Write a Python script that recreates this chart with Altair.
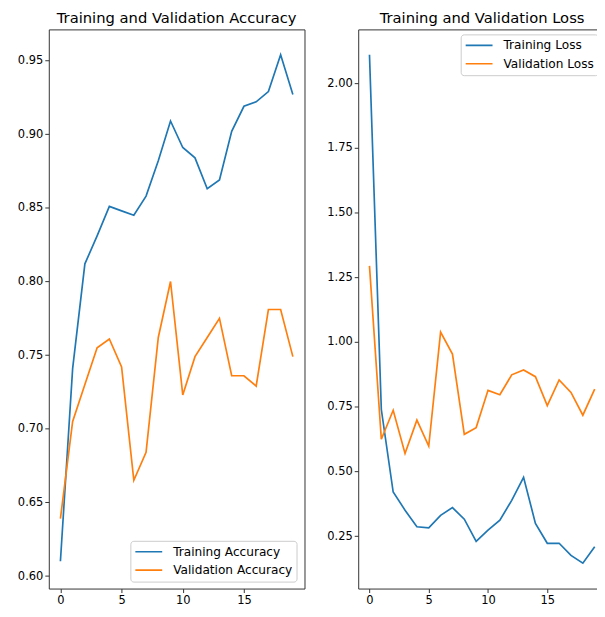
import altair as alt
import pandas as pd

epochs = list(range(20))
train_acc = [0.610, 0.741, 0.812, 0.831, 0.851, 0.848, 0.845, 0.858, 0.882, 0.909,
             0.891, 0.884, 0.863, 0.869, 0.902, 0.919, 0.922, 0.929, 0.954, 0.927]
val_acc = [0.639, 0.705, 0.730, 0.755, 0.761, 0.742, 0.665, 0.684, 0.762, 0.800,
           0.723, 0.749, 0.762, 0.775, 0.736, 0.736, 0.729, 0.781, 0.781, 0.749]
train_loss = [2.110, 0.739, 0.420, 0.350, 0.286, 0.282, 0.330, 0.360, 0.315, 0.229,
              0.273, 0.311, 0.388, 0.477, 0.299, 0.222, 0.222, 0.175, 0.145, 0.209]
val_loss = [1.294, 0.624, 0.736, 0.569, 0.698, 0.598, 1.038, 0.953, 0.643, 0.669,
            0.813, 0.796, 0.873, 0.892, 0.866, 0.754, 0.853, 0.805, 0.717, 0.818]

acc_names = ["Training Accuracy", "Validation Accuracy"]
loss_names = ["Training Loss", "Validation Loss"]
x_ticks = [0, 5, 10, 15]
acc_ticks = [0.60, 0.65, 0.70, 0.75, 0.80, 0.85, 0.90, 0.95]
loss_ticks = [0.25, 0.50, 0.75, 1.00, 1.25, 1.50, 1.75, 2.00]

BLUE, ORANGE = "#1f77b4", "#ff7f0e"
FONT = "DejaVu Sans"
FRAME = "#333333"
PH = 562

acc_df = pd.DataFrame({
    "epoch": epochs * 2,
    "value": train_acc + val_acc,
    "series": [acc_names[0]] * 20 + [acc_names[1]] * 20,
})
loss_df = pd.DataFrame({
    "epoch": epochs * 2,
    "value": train_loss + val_loss,
    "series": [loss_names[0]] * 20 + [loss_names[1]] * 20,
})


def legend(x, y):
    return alt.Legend(
        title=None, orient="none", legendX=x, legendY=y,
        symbolType="stroke", symbolSize=729, symbolStrokeWidth=1.7,
        clipHeight=14, rowPadding=4.5, labelOffset=10, padding=4,
        strokeColor="#cccccc", fillColor="rgba(255,255,255,0.85)", cornerRadius=3,
        labelFont=FONT, labelFontSize=12.2, labelColor="black",
    )


def yaxis(ticks):
    return alt.Axis(values=ticks, format=".2f", title=None, grid=False, domain=False,
                    minExtent=40, maxExtent=40)


xaxis = alt.Axis(values=x_ticks, format="d", title=None, grid=False, domain=False,
                 labelAngle=0)
xscale = alt.Scale(domain=[-0.95, 19.95], nice=False, zero=False)
frame = alt.ViewBackground(stroke=FRAME, strokeWidth=1)

left = alt.Chart(acc_df).mark_line(strokeWidth=1.7, clip=True).encode(
    x=alt.X("epoch:Q", scale=xscale, axis=xaxis),
    y=alt.Y("value:Q", scale=alt.Scale(domain=[0.5915, 0.9712], nice=False, zero=False),
            axis=yaxis(acc_ticks)),
    color=alt.Color("series:N", scale=alt.Scale(domain=acc_names, range=[BLUE, ORANGE]),
                    legend=legend(82, 514)),
    order=alt.Order("epoch:Q"),
).properties(
    width=257, height=PH,
    title=alt.TitleParams("Training and Validation Accuracy"),
    view=frame,
)

right = alt.Chart(loss_df).mark_line(strokeWidth=1.7, clip=True).encode(
    x=alt.X("epoch:Q", scale=xscale, axis=xaxis),
    y=alt.Y("value:Q", scale=alt.Scale(domain=[0.047, 2.208], nice=False, zero=False),
            axis=yaxis(loss_ticks)),
    color=alt.Color("series:N", scale=alt.Scale(domain=loss_names, range=[BLUE, ORANGE]),
                    legend=legend(103, 5)),
    order=alt.Order("epoch:Q"),
).properties(
    width=249, height=PH,
    title=alt.TitleParams("Training and Validation Loss"),
    view=frame,
)

chart = alt.hconcat(left, right, spacing=12).resolve_scale(
    color="independent", x="independent", y="independent"
).resolve_legend(color="independent").properties(
    padding={"left": 0, "top": 0, "right": -10, "bottom": -1.8}
).configure_title(
    font=FONT, fontSize=14.8, fontWeight="normal", color="black",
    anchor="middle", offset=4, baseline="bottom",
).configure_axis(
    labelFont=FONT, labelFontSize=11.5, labelColor="black",
    tickColor=FRAME, tickSize=4, tickWidth=1, labelPadding=2,
)

chart.save("out.html", embed_options={"renderer": "svg", "actions": False})
